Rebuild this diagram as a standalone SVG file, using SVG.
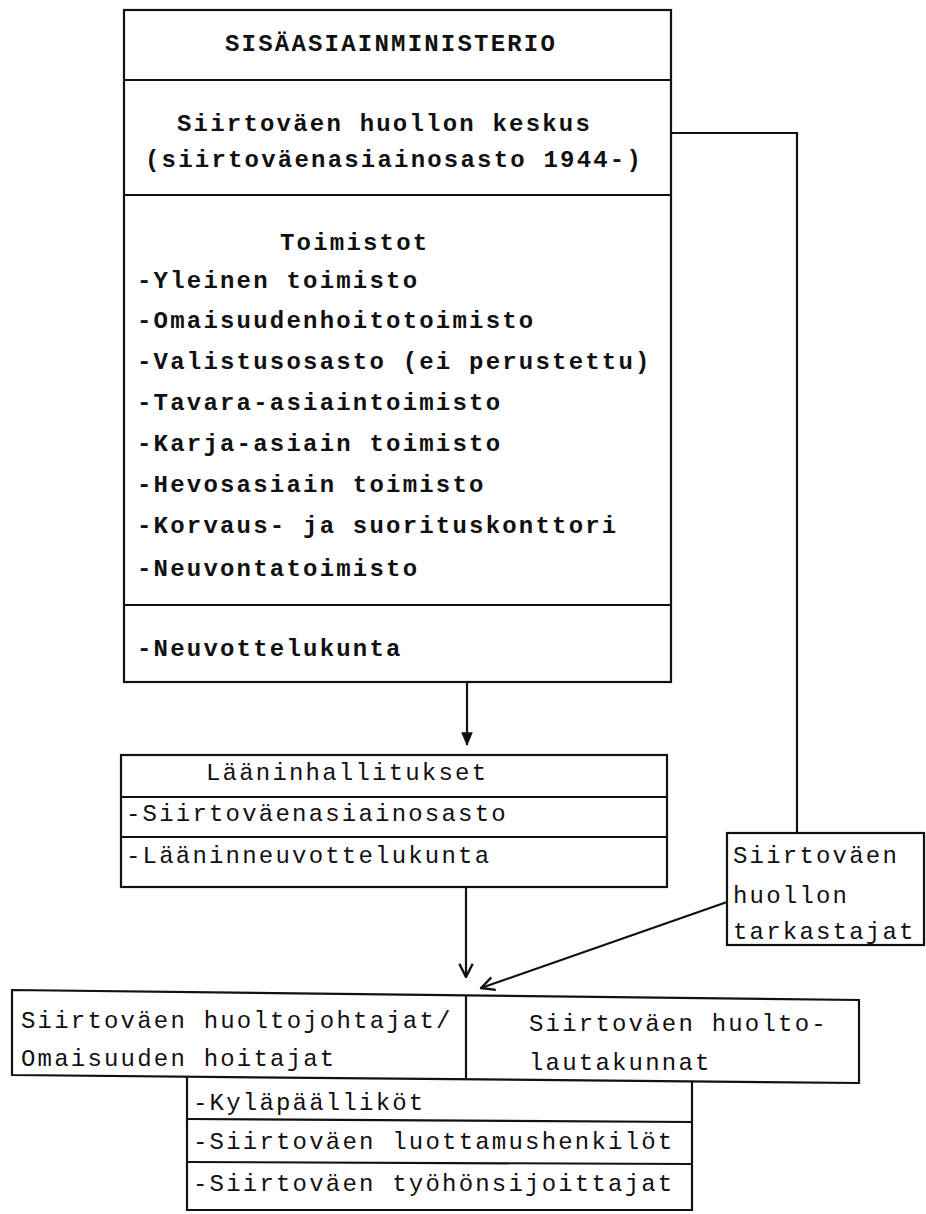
<svg xmlns="http://www.w3.org/2000/svg" width="926" height="1214" viewBox="0 0 926 1214">
<style>
.bx{fill:none;stroke:#111;stroke-width:2.2}
.ln{stroke:#111;stroke-width:2.2;fill:none}
.t{font-family:"Liberation Mono","DejaVu Sans Mono",monospace;font-size:24px;fill:#111;letter-spacing:2.2px}
.b{font-weight:bold}
</style>
<defs>
<marker id="vopen" viewBox="0 0 12 12" refX="11" refY="6" markerWidth="16" markerHeight="16" markerUnits="userSpaceOnUse" orient="auto"><path d="M1,1 L11,6 L1,11" fill="none" stroke="#111" stroke-width="1.8"/></marker>
<marker id="vfill" viewBox="0 0 12 12" refX="11" refY="6" markerWidth="14" markerHeight="14" markerUnits="userSpaceOnUse" orient="auto"><path d="M0,1 L12,6 L0,11 Z" fill="#111"/></marker>
</defs>
<rect width="926" height="1214" fill="#fff"/>
<g id="ministerio">
<rect class="bx" x="124" y="10" width="547" height="672"/>
<line class="ln" x1="124" y1="80" x2="671" y2="80"/>
<line class="ln" x1="124" y1="195" x2="671" y2="195"/>
<line class="ln" x1="124" y1="605" x2="671" y2="605"/>
<text class="t b" x="225" y="51">SISÄASIAINMINISTERIO</text>
<text class="t b" x="177" y="131">Siirtoväen huollon keskus</text>
<text class="t b" x="145" y="167">(siirtoväenasiainosasto 1944-)</text>
<text class="t b" x="280" y="250">Toimistot</text>
<text class="t b" x="137" y="288">-Yleinen toimisto</text>
<text class="t b" x="137" y="328">-Omaisuudenhoitotoimisto</text>
<text class="t b" x="137" y="369">-Valistusosasto (ei perustettu)</text>
<text class="t b" x="137" y="410">-Tavara-asiaintoimisto</text>
<text class="t b" x="137" y="451">-Karja-asiain toimisto</text>
<text class="t b" x="137" y="492">-Hevosasiain toimisto</text>
<text class="t b" x="137" y="533">-Korvaus- ja suorituskonttori</text>
<text class="t b" x="137" y="576">-Neuvontatoimisto</text>
<text class="t b" x="137" y="656">-Neuvottelukunta</text>
</g>
<g id="laaninhallitukset">
<rect class="bx" x="121" y="755" width="546" height="132"/>
<line class="ln" x1="121" y1="797" x2="667" y2="797"/>
<line class="ln" x1="121" y1="837" x2="667" y2="837"/>
<text class="t" x="206" y="780">Lääninhallitukset</text>
<text class="t" x="126" y="821">-Siirtoväenasiainosasto</text>
<text class="t" x="126" y="863">-Lääninneuvottelukunta</text>
</g>
<g id="tarkastajat">
<rect class="bx" x="727" y="833" width="197" height="112"/>
<text class="t" x="733" y="863">Siirtoväen</text>
<text class="t" x="733" y="903">huollon</text>
<text class="t" x="733" y="939">tarkastajat</text>
</g>
<g id="kunnat">
<polygon class="bx" points="12,990 859,1000 859,1083 12,1075"/>
<line class="ln" x1="466" y1="995" x2="466" y2="1079"/>
<text class="t" x="21" y="1028">Siirtoväen huoltojohtajat/</text>
<text class="t" x="21" y="1066">Omaisuuden hoitajat</text>
<text class="t" x="529" y="1031">Siirtoväen huolto-</text>
<text class="t" x="529" y="1070">lautakunnat</text>
</g>
<g id="paikalliset">
<polyline class="ln" points="187,1076 187,1210 692,1210 692,1081"/>
<line class="ln" x1="187" y1="1119" x2="692" y2="1122"/>
<line class="ln" x1="187" y1="1162" x2="692" y2="1164"/>
<text class="t" x="193" y="1110">-Kyläpäälliköt</text>
<text class="t" x="193" y="1149">-Siirtoväen luottamushenkilöt</text>
<text class="t" x="193" y="1191">-Siirtoväen työhönsijoittajat</text>
</g>
<g id="connectors">
<polyline class="ln" points="671,133 797,133 797,833"/>
<line class="ln" x1="467" y1="682" x2="467" y2="745" marker-end="url(#vfill)"/>
<line class="ln" x1="466" y1="887" x2="466" y2="977" marker-end="url(#vopen)"/>
<line class="ln" x1="727" y1="902" x2="481" y2="988" marker-end="url(#vopen)"/>
</g>
</svg>
